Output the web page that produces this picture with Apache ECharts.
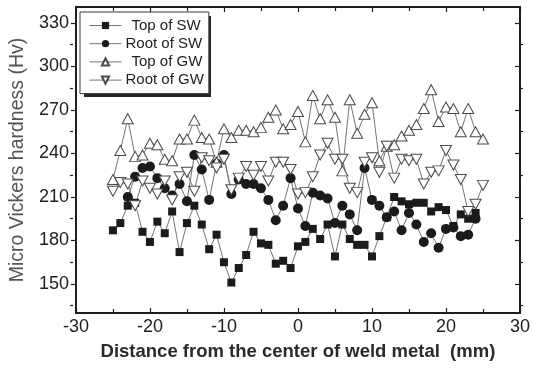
<!DOCTYPE html>
<html><head><meta charset="utf-8">
<script src="https://cdn.jsdelivr.net/npm/echarts@6/dist/echarts.min.js"></script>
<style>html,body{margin:0;padding:0;background:#fff}#c{width:533px;height:370px}</style>
</head><body><div id="c"></div>
<script>
// ---- data ----
const seriesNames = ['Top of SW', 'Root of SW', 'Top of GW', 'Root of GW'];
const xTopSW  = [-25,-24,-23,-22,-21,-20,-19,-18,-17,-16,-15,-14,-13,-12,-11,-10,-9,-8,-7,-6,-5,-4,-3,-2,-1,0,1,2,3,4,5,6,7,8,9,10,11,12,13,14,15,16,17,18,19,20,21,22,23,24];
const topSW   = [187,192,204,206,186,179,193,185,200,172,192,204,191,174,184,165,151,161,170,186,178,177,164,166,161,176,179,188,181,191,169,191,181,177,177,169,183,196,210,207,205,206,206,200,203,201,190,198,195,199];
const xRootSW = [-23,-22,-21,-20,-19,-18,-17,-16,-15,-14,-13,-12,-11,-10,-9,-8,-7,-6,-5,-4,-3,-2,-1,0,1,2,3,4,5,6,7,8,9,10,11,12,13,14,15,16,17,18,19,20,21,22,23,24];
const rootSW  = [210,224,230,231,223,216,211,219,207,239,229,208,233,239,212,222,219,219,216,208,194,204,223,202,190,213,211,209,192,204,198,187,230,208,204,196,200,187,199,191,179,185,175,188,189,183,184,195];
const xGW     = [-25,-24,-23,-22,-21,-20,-19,-18,-17,-16,-15,-14,-13,-12,-11,-10,-9,-8,-7,-6,-5,-4,-3,-2,-1,0,1,2,3,4,5,6,7,8,9,10,11,12,13,14,15,16,17,18,19,20,21,22,23,24,25];
const topGW   = [222,242,264,238,239,247,246,236,235,250,250,263,251,250,234,257,251,256,256,255,258,265,270,257,260,269,248,280,264,277,265,228,277,254,267,275,235,245,246,252,256,260,271,284,262,272,271,255,271,255,250];
const rootGW  = [214,220,219,204,221,216,212,221,208,224,227,214,237,235,230,236,215,223,231,225,231,221,234,234,229,212,213,224,239,247,236,236,216,213,234,237,227,245,223,236,235,236,219,227,228,242,232,222,200,205,218];
const yMajorTicks = [150,180,210,240,270,300,330];
const yMinorTicks = [135,165,195,225,255,285,315];
const xAxisTitle = 'Distance from the center of weld metal  (mm)';
const yAxisTitle = 'Micro Vickers hardness (Hv)';

function pairs(xs, ys){ return xs.map((x,i)=>[x, ys[i]]); }

const FONT = '"Liberation Sans", Arial, sans-serif';
const AX = '#1e1e1e';
const LINE = '#747474';
const gridRect = {left: 73, right: 10, top: 7, bottom: 57};

const chart = echarts.init(document.getElementById('c'), null, {renderer: 'canvas'});
const yRange = {min: 130, max: 341};

chart.setOption({
  animation: false,
  backgroundColor: '#fff',
  textStyle: {fontFamily: FONT},
  grid: [Object.assign({}, gridRect), Object.assign({}, gridRect)],
  graphic: [
    {type: 'rect', z: 3, shape: {x: 84, y: 16, width: 127, height: 81}, style: {fill: '#262626'}}
  ],
  legend: {
    z: 5,
    data: seriesNames,
    orient: 'vertical',
    left: 80, top: 12,
    padding: [6, 5, 6, 9],
    itemWidth: 32, itemHeight: 9, itemGap: 3.2,
    backgroundColor: '#fff',
    borderColor: '#3a3a3a', borderWidth: 1,
    lineStyle: {color: LINE, width: 1},
    formatter: n => (n.indexOf('Top') === 0 ? '{t|' : '{r|') + n + '}',
    textStyle: {rich: {
      t: {fontSize: 15, lineHeight: 15, color: '#1e1e1e', fontFamily: FONT, padding: [0, 0, 0, 5]},
      r: {fontSize: 15, lineHeight: 15, color: '#1e1e1e', fontFamily: FONT, padding: [0, 0, 0, -1]}
    }}
  },
  xAxis: [
    {gridIndex: 0, type: 'value', position: 'bottom', min: -30, max: 30, interval: 10,
     axisLine: {onZero: false, lineStyle: {color: AX, width: 2}},
     axisTick: {inside: true, length: 5, lineStyle: {color: AX, width: 1.2}},
     minorTick: {show: true, splitNumber: 2, length: 4, lineStyle: {color: AX, width: 1.2}},
     splitLine: {show: false},
     axisLabel: {margin: 5, fontSize: 18, color: '#222', fontFamily: FONT},
     name: xAxisTitle, nameLocation: 'middle', nameGap: 29,
     nameTextStyle: {fontSize: 18.5, fontWeight: 'bold', color: '#2a2a2a', fontFamily: FONT}},
    {gridIndex: 0, type: 'value', position: 'top', min: -30, max: 30, interval: 10,
     axisLine: {onZero: false, lineStyle: {color: AX, width: 2}},
     axisTick: {inside: true, length: 5, lineStyle: {color: AX, width: 1.2}},
     minorTick: {show: true, splitNumber: 2, length: 4, lineStyle: {color: AX, width: 1.2}},
     splitLine: {show: false}, axisLabel: {show: false}},
    {gridIndex: 1, type: 'value', min: -30, max: 30, show: false, axisLine: {onZero: false}}
  ],
  yAxis: [
    {gridIndex: 0, type: 'value', position: 'left', min: yRange.min, max: yRange.max,
     axisLine: {onZero: false, lineStyle: {color: AX, width: 2}},
     axisTick: {inside: false, length: 5, customValues: yMajorTicks, lineStyle: {color: AX, width: 1.2}},
     axisLabel: {customValues: yMajorTicks, margin: 7, fontSize: 18, color: '#222', fontFamily: FONT},
     splitLine: {show: false},
     name: yAxisTitle, nameLocation: 'middle', nameGap: 47,
     nameTextStyle: {fontSize: 19.5, color: '#555', fontFamily: FONT}},
    {gridIndex: 0, type: 'value', position: 'right', min: yRange.min, max: yRange.max,
     axisLine: {onZero: false, lineStyle: {color: AX, width: 2}},
     axisTick: {inside: true, length: 5, customValues: yMajorTicks, lineStyle: {color: AX, width: 1.2}},
     axisLabel: {show: false, customValues: yMajorTicks},
     splitLine: {show: false}},
    {gridIndex: 1, type: 'value', position: 'left', min: yRange.min, max: yRange.max,
     axisLine: {show: false, onZero: false},
     axisTick: {inside: false, length: 3, customValues: yMinorTicks, lineStyle: {color: AX, width: 1.2}},
     axisLabel: {show: false, customValues: yMinorTicks},
     splitLine: {show: false}},
    {gridIndex: 1, type: 'value', position: 'right', min: yRange.min, max: yRange.max,
     axisLine: {show: false, onZero: false},
     axisTick: {inside: true, length: 3, customValues: yMinorTicks, lineStyle: {color: AX, width: 1.2}},
     axisLabel: {show: false, customValues: yMinorTicks},
     splitLine: {show: false}}
  ],
  series: [
    {name: seriesNames[0], type: 'line', xAxisIndex: 0, yAxisIndex: 0, data: pairs(xTopSW, topSW),
     symbol: 'rect', symbolSize: 8, showAllSymbol: true,
     lineStyle: {color: LINE, width: 1}, itemStyle: {color: '#1b1b1b', borderWidth: 0}},
    {name: seriesNames[1], type: 'line', xAxisIndex: 0, yAxisIndex: 0, data: pairs(xRootSW, rootSW),
     symbol: 'circle', symbolSize: 10, showAllSymbol: true,
     lineStyle: {color: LINE, width: 1}, itemStyle: {color: '#1b1b1b', borderWidth: 0}},
    {name: seriesNames[2], type: 'line', xAxisIndex: 0, yAxisIndex: 0, data: pairs(xGW, topGW),
     symbol: 'triangle', symbolSize: [11, 10], showAllSymbol: true,
     lineStyle: {color: LINE, width: 1}, itemStyle: {color: '#fff', borderColor: '#4a4a4a', borderWidth: 1}},
    {name: seriesNames[3], type: 'line', xAxisIndex: 0, yAxisIndex: 0, data: pairs(xGW, rootGW),
     symbol: 'triangle', symbolRotate: 180, symbolSize: [11, 10], showAllSymbol: true,
     lineStyle: {color: LINE, width: 1}, itemStyle: {color: '#fff', borderColor: '#4a4a4a', borderWidth: 1}}
  ]
});
</script></body></html>
